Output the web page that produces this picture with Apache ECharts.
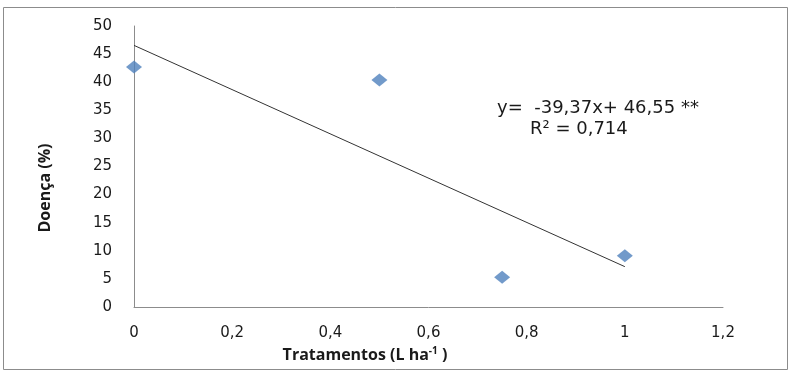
<!DOCTYPE html>
<html>
<head>
<meta charset="utf-8">
<script src="https://cdn.jsdelivr.net/npm/echarts@6/dist/echarts.min.js"></script>
<style>
  html, body { margin: 0; padding: 0; background: #fff; }
  #box1 { width: 791px; height: 372px; }
</style>
</head>
<body>
<div id="box1"></div>
<script>
var doseChart = echarts.init(document.getElementById('box1'));

// dados
var doses = [0, 0.5, 0.75, 1];
var doenca = [42.7, 40.4, 5.3, 9.1];
var trendX = [0, 1];
var trendY = [46.55, 7.18];
var eqLine1 = 'y=  -39,37x+ 46,55 **';
var eqLine2 = 'R² = 0,714';

var pontos = doses.map(function(x, i) {
  return [x, doenca[i]];
});
var reta = trendX.map(function(x, i) {
  return [x, trendY[i]];
});

var fonteNum = 'DejaVu Sans, Verdana, sans-serif';
var fonteTit = '"Liberation Sans Narrow", "Open Sans", sans-serif';

option = {
  animation: false,
  grid: {
    left: 134,
    right: 68,
    top: 26,
    bottom: 65
  },
  graphic: [{
    type: 'rect',
    shape: { x: 3.5, y: 7.5, width: 784, height: 362 },
    style: { fill: 'none', stroke: '#8c8c8c', lineWidth: 1 },
    silent: true
  }, {
    type: 'text',
    left: 497,
    top: 99,
    style: { text: eqLine1, font: '18px ' + fonteNum, fill: '#1a1a1a' }
  }, {
    type: 'text',
    left: 530,
    top: 120,
    style: { text: eqLine2, font: '18px ' + fonteNum, fill: '#1a1a1a' }
  }, {
    type: 'text',
    x: 45,
    y: 188,
    rotation: Math.PI / 2,
    style: {
      text: 'Doença (%)',
      font: 'bold 16px ' + fonteTit,
      fill: '#1a1a1a',
      align: 'center',
      verticalAlign: 'middle'
    }
  }, {
    type: 'text',
    x: 365,
    y: 355,
    style: {
      text: '{b|Tratamentos (L ha}{s|-1}{b| )}',
      align: 'center',
      verticalAlign: 'middle',
      rich: {
        b: { font: 'bold 16px ' + fonteTit, fill: '#1a1a1a' },
        s: { font: 'bold 10px ' + fonteTit, fill: '#1a1a1a', verticalAlign: 'top', padding: [0, 0, 8, 0] }
      }
    }
  }],
  xAxis: {
    type: 'value',
    min: 0,
    max: 1.2,
    interval: 0.2,
    axisLine: { show: true, lineStyle: { color: '#8c8c8c', width: 1 } },
    axisTick: { show: false },
    splitLine: { show: false },
    axisLabel: {
      margin: 19,
      fontSize: 15,
      color: '#1a1a1a',
      fontFamily: fonteNum,
      formatter: function(v) {
        return (Math.round(v * 10) / 10).toString().replace('.', ',');
      }
    }
  },
  yAxis: {
    type: 'value',
    min: 0,
    max: 50,
    interval: 5,
    axisLine: { show: true, lineStyle: { color: '#8c8c8c', width: 1 } },
    axisTick: { show: false },
    splitLine: { show: false },
    axisLabel: {
      margin: 22,
      fontSize: 15,
      color: '#1a1a1a',
      fontFamily: fonteNum
    }
  },
  series: [{
    name: 'Tendencia',
    type: 'line',
    data: reta,
    symbol: 'none',
    lineStyle: { color: '#333', width: 1 },
    silent: true
  }, {
    name: 'Doenca',
    type: 'scatter',
    data: pontos,
    symbol: 'diamond',
    symbolSize: [16, 13],
    itemStyle: { color: '#4f81bd' }
  }]
};

doseChart.setOption(option);
</script>
</body>
</html>
